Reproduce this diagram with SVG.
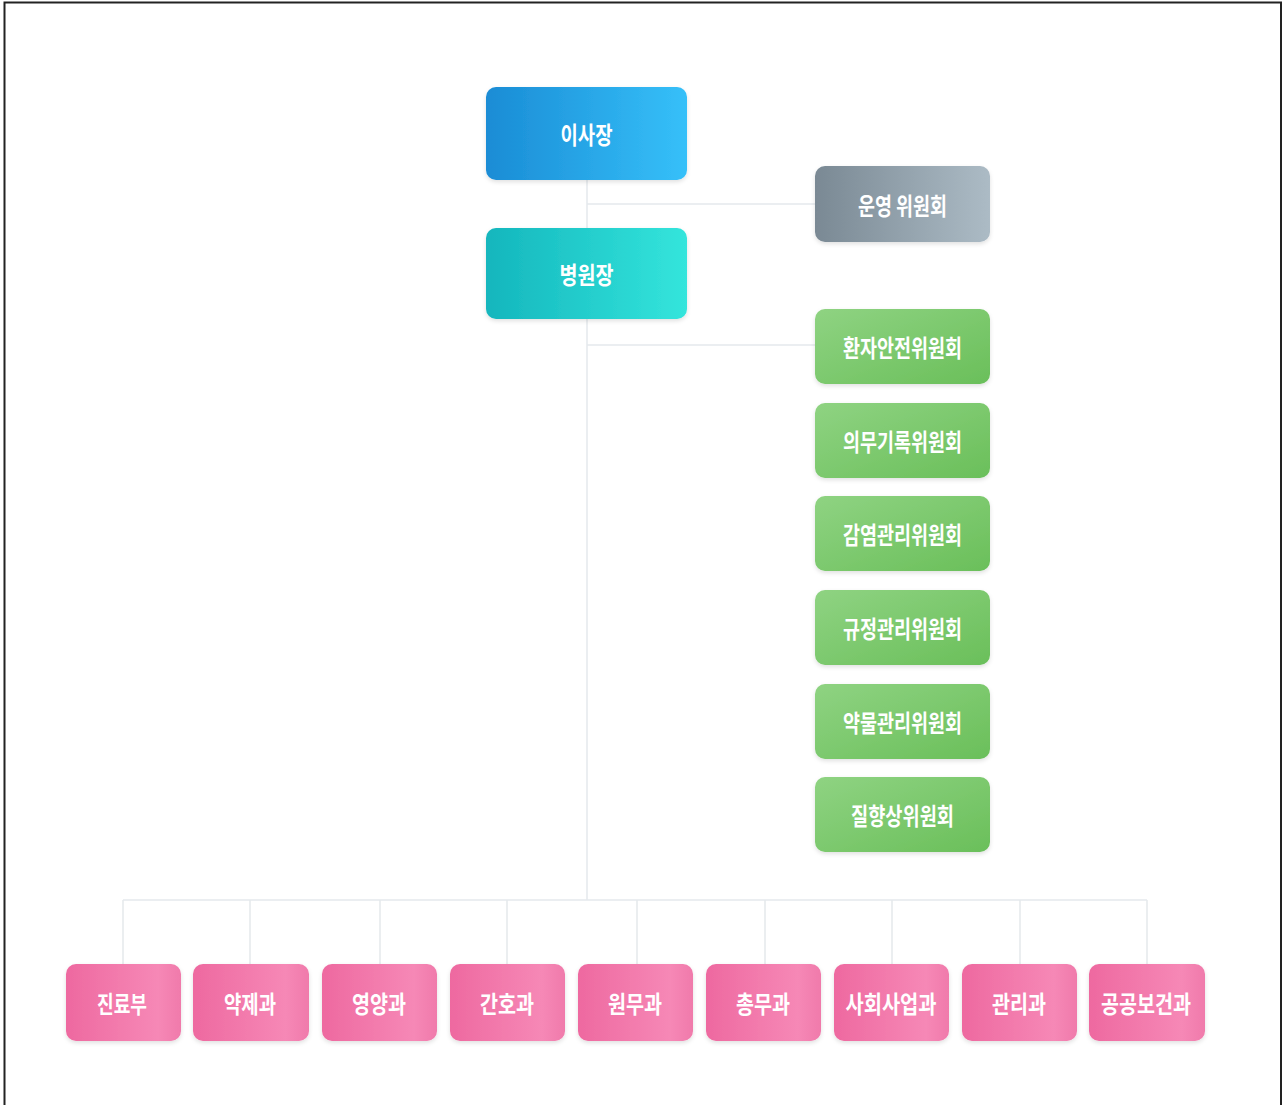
<svg xmlns="http://www.w3.org/2000/svg" width="1283" height="1105" viewBox="0 0 1283 1105">
<defs>
<linearGradient id="gBlue" x1="0" y1="0" x2="1" y2="0"><stop offset="0" stop-color="#1a8cd5"/><stop offset="1" stop-color="#36c0f9"/></linearGradient>
<linearGradient id="gTeal" x1="0" y1="0" x2="1" y2="0"><stop offset="0" stop-color="#14b6bd"/><stop offset="1" stop-color="#34e5dc"/></linearGradient>
<linearGradient id="gGray" x1="0" y1="0" x2="1" y2="0"><stop offset="0" stop-color="#7a8994"/><stop offset="1" stop-color="#acbbc5"/></linearGradient>
<linearGradient id="gGreen" x1="0" y1="0" x2="1" y2="1"><stop offset="0" stop-color="#8fd382"/><stop offset="1" stop-color="#6abf5a"/></linearGradient>
<linearGradient id="gPink" x1="0" y1="0" x2="1" y2="0"><stop offset="0" stop-color="#ee69a0"/><stop offset="0.8" stop-color="#f688b6"/><stop offset="1" stop-color="#f07aab"/></linearGradient>
<filter id="sh" x="-10%" y="-10%" width="120%" height="130%"><feDropShadow dx="0" dy="2" stdDeviation="2" flood-color="#000" flood-opacity="0.12"/></filter>
</defs>
<style>
.box{filter:url(#sh)}
.t{font-family:"Noto Sans CJK KR","Noto Sans",sans-serif;font-weight:700;font-size:24px;fill:#ffffff;text-anchor:middle;dominant-baseline:central}
.ln{stroke:#e5e9ec;stroke-width:1.5;fill:none}
</style>
<rect x="0" y="0" width="1283" height="1105" fill="#ffffff"/>
<path d="M4.5 1110 V2.5 H1281 V1110" fill="none" stroke="#222" stroke-width="2"/>
<g id="connectors">
<path class="ln" d="M587 180 V900"/>
<path class="ln" d="M587 204 H815"/>
<path class="ln" d="M587 345 H815"/>
<path class="ln" d="M123 900 H1147"/>
<path class="ln" d="M123 900 V964 M250 900 V964 M380 900 V964 M507 900 V964 M637 900 V964 M765 900 V964 M892 900 V964 M1020 900 V964 M1147 900 V964"/>
</g>
<g id="n-chairman"><rect class="box" x="486" y="87" width="201" height="93" rx="10" fill="url(#gBlue)"/><text class="t" x="586.5" y="133.5" textLength="52" lengthAdjust="spacingAndGlyphs">이사장</text></g>
<g id="n-director"><rect class="box" x="486" y="228" width="201" height="91" rx="10" fill="url(#gTeal)"/><text class="t" x="586.5" y="273.5" textLength="54" lengthAdjust="spacingAndGlyphs">병원장</text></g>
<g id="n-operation"><rect class="box" x="815" y="166" width="175" height="76" rx="10" fill="url(#gGray)"/><text class="t" x="902.5" y="204" textLength="89" lengthAdjust="spacingAndGlyphs">운영 위원회</text></g>
<g id="n-c1"><rect class="box" x="815" y="309" width="175" height="75" rx="10" fill="url(#gGreen)"/><text class="t" x="902.5" y="346.5" textLength="119" lengthAdjust="spacingAndGlyphs">환자안전위원회</text></g>
<g id="n-c2"><rect class="box" x="815" y="403" width="175" height="75" rx="10" fill="url(#gGreen)"/><text class="t" x="902.5" y="440.5" textLength="119" lengthAdjust="spacingAndGlyphs">의무기록위원회</text></g>
<g id="n-c3"><rect class="box" x="815" y="496" width="175" height="75" rx="10" fill="url(#gGreen)"/><text class="t" x="902.5" y="533.5" textLength="119" lengthAdjust="spacingAndGlyphs">감염관리위원회</text></g>
<g id="n-c4"><rect class="box" x="815" y="590" width="175" height="75" rx="10" fill="url(#gGreen)"/><text class="t" x="902.5" y="627.5" textLength="119" lengthAdjust="spacingAndGlyphs">규정관리위원회</text></g>
<g id="n-c5"><rect class="box" x="815" y="684" width="175" height="75" rx="10" fill="url(#gGreen)"/><text class="t" x="902.5" y="721.5" textLength="119" lengthAdjust="spacingAndGlyphs">약물관리위원회</text></g>
<g id="n-c6"><rect class="box" x="815" y="777" width="175" height="75" rx="10" fill="url(#gGreen)"/><text class="t" x="902.5" y="814.5" textLength="103" lengthAdjust="spacingAndGlyphs">질향상위원회</text></g>
<g id="n-d1"><rect class="box" x="66" y="964" width="115" height="77" rx="10" fill="url(#gPink)"/><text class="t" x="122" y="1002" textLength="50" lengthAdjust="spacingAndGlyphs">진료부</text></g>
<g id="n-d2"><rect class="box" x="193" y="964" width="116" height="77" rx="10" fill="url(#gPink)"/><text class="t" x="250" y="1002" textLength="52" lengthAdjust="spacingAndGlyphs">약제과</text></g>
<g id="n-d3"><rect class="box" x="322" y="964" width="115" height="77" rx="10" fill="url(#gPink)"/><text class="t" x="379" y="1002" textLength="54" lengthAdjust="spacingAndGlyphs">영양과</text></g>
<g id="n-d4"><rect class="box" x="450" y="964" width="115" height="77" rx="10" fill="url(#gPink)"/><text class="t" x="507" y="1002" textLength="54" lengthAdjust="spacingAndGlyphs">간호과</text></g>
<g id="n-d5"><rect class="box" x="578" y="964" width="115" height="77" rx="10" fill="url(#gPink)"/><text class="t" x="635" y="1002" textLength="54" lengthAdjust="spacingAndGlyphs">원무과</text></g>
<g id="n-d6"><rect class="box" x="706" y="964" width="115" height="77" rx="10" fill="url(#gPink)"/><text class="t" x="763" y="1002" textLength="54" lengthAdjust="spacingAndGlyphs">총무과</text></g>
<g id="n-d7"><rect class="box" x="834" y="964" width="115" height="77" rx="10" fill="url(#gPink)"/><text class="t" x="891" y="1002" textLength="91" lengthAdjust="spacingAndGlyphs">사회사업과</text></g>
<g id="n-d8"><rect class="box" x="962" y="964" width="115" height="77" rx="10" fill="url(#gPink)"/><text class="t" x="1019" y="1002" textLength="54" lengthAdjust="spacingAndGlyphs">관리과</text></g>
<g id="n-d9"><rect class="box" x="1089" y="964" width="116" height="77" rx="10" fill="url(#gPink)"/><text class="t" x="1146" y="1002" textLength="90" lengthAdjust="spacingAndGlyphs">공공보건과</text></g>
</svg>
